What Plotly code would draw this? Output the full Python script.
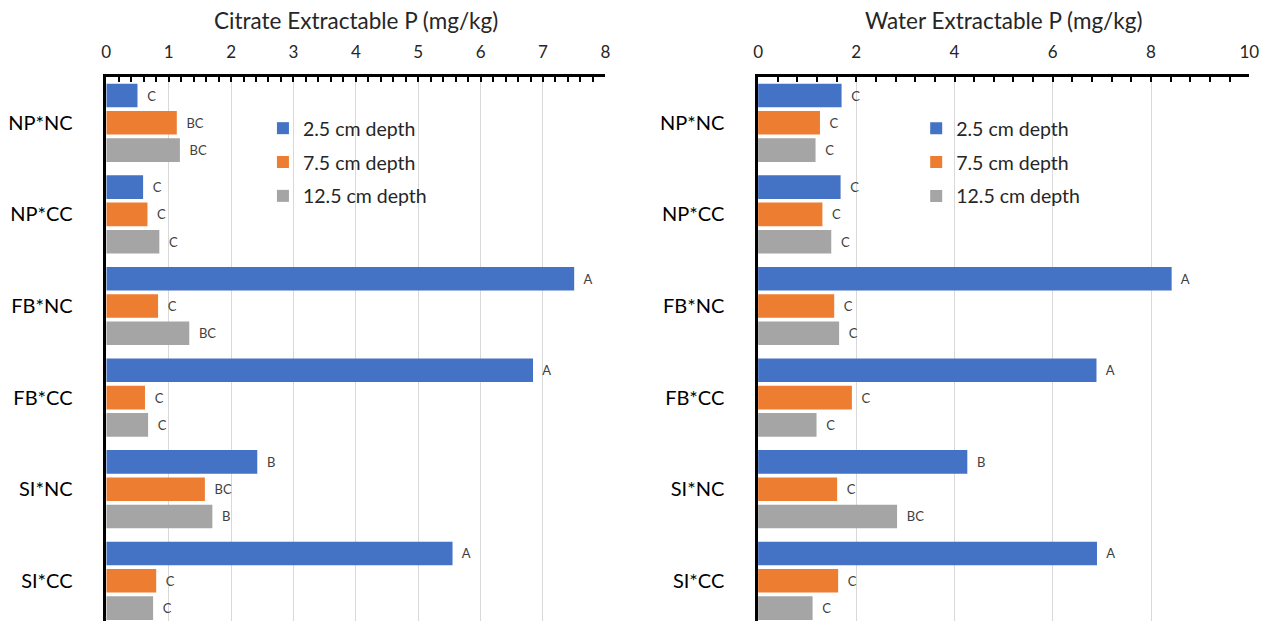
import plotly.graph_objects as go

# Treatment combinations, listed top to bottom
treatments = ["NP*NC", "NP*CC", "FB*NC", "FB*CC", "SI*NC", "SI*CC"]
depths = ["2.5 cm depth", "7.5 cm depth", "12.5 cm depth"]
colors = ["#4472C4", "#ED7D31", "#A5A5A5"]

# Citrate extractable P (mg/kg) by depth
citrate_25 = [0.50, 0.59, 7.50, 6.84, 2.42, 5.55]
citrate_75 = [1.13, 0.66, 0.83, 0.62, 1.58, 0.80]
citrate_125 = [1.18, 0.85, 1.33, 0.67, 1.70, 0.75]
citrate_letters_25 = ["C", "C", "A", "A", "B", "A"]
citrate_letters_75 = ["BC", "C", "C", "C", "BC", "C"]
citrate_letters_125 = ["BC", "C", "BC", "C", "B", "C"]

# Water extractable P (mg/kg) by depth
water_25 = [1.70, 1.68, 8.42, 6.89, 4.26, 6.90]
water_75 = [1.26, 1.31, 1.55, 1.91, 1.61, 1.63]
water_125 = [1.17, 1.49, 1.65, 1.19, 2.83, 1.11]
water_letters_25 = ["C", "C", "A", "A", "B", "A"]
water_letters_75 = ["C", "C", "C", "C", "C", "C"]
water_letters_125 = ["C", "C", "C", "C", "BC", "C"]

W, H = 1280, 621
PLOT_TOP = 77
FONT = "Lato"
TXT = "#262626"

fig = go.Figure()

panels = [
    ("x", "y", "legend", [citrate_25, citrate_75, citrate_125],
     [citrate_letters_25, citrate_letters_75, citrate_letters_125]),
    ("x2", "y2", "legend2", [water_25, water_75, water_125],
     [water_letters_25, water_letters_75, water_letters_125]),
]

for xa, ya, leg, series, letters in panels:
    for i, (vals, labs) in enumerate(zip(series, letters)):
        fig.add_trace(go.Bar(
            x=vals, y=treatments, orientation="h",
            name=depths[i], marker=dict(color=colors[i], line=dict(width=0)),
            text=["\u00a0\u00a0" + t for t in labs], textposition="outside",
            textfont=dict(family=FONT, size=13, color="#404040"),
            cliponaxis=False,
            xaxis=xa, yaxis=ya, legend=leg, legendgroup=f"{leg}_{i}",
            hoverinfo="x+y+name",
        ))

def xaxis_style(domain, rng, major, minor):
    return dict(
        domain=domain, range=rng, side="top", dtick=major, tick0=0,
        ticks="inside", ticklen=5, tickwidth=2, tickcolor="black",
        minor=dict(dtick=minor, tick0=0, ticks="inside", ticklen=5,
                   tickwidth=2, tickcolor="black", showgrid=False),
        showgrid=True, gridcolor="#D9D9D9", gridwidth=1,
        showline=True, linecolor="black", linewidth=2.5,
        zeroline=False, ticklabelstandoff=9,
        tickfont=dict(family=FONT, size=17, color=TXT),
        fixedrange=True,
    )

def yaxis_style(anchor):
    return dict(
        anchor=anchor, domain=[0, 1 - PLOT_TOP / H], type="category",
        categoryorder="array", categoryarray=treatments,
        range=[5.439, -0.5], showline=True, linecolor="black", linewidth=2.5,
        ticks="", showgrid=False, zeroline=False, ticklabelstandoff=27,
        tickfont=dict(family=FONT, size=20, color="black"),
        fixedrange=True,
    )

left_dom = [102.5 / W, 607.5 / W]
right_dom = [762 / W, 1259 / W]

legend_common = dict(
    yanchor="top", xanchor="left", y=1 - 109 / H,
    font=dict(family=FONT, size=19.5, color=TXT),
    bgcolor="rgba(0,0,0,0)", tracegroupgap=5.5,
)

fig.update_layout(
    width=W, height=H,
    margin=dict(l=0, r=0, t=0, b=0),
    paper_bgcolor="white", plot_bgcolor="white",
    barmode="group", bargap=0.106, bargroupgap=0.136,
    font=dict(family=FONT, color=TXT),
    xaxis=xaxis_style(left_dom, [0, 8], 1, 0.2),
    yaxis=yaxis_style("x"),
    xaxis2=xaxis_style(right_dom, [0, 10], 2, 0.4),
    yaxis2=yaxis_style("x2"),
    legend=dict(x=261 / W, **legend_common),
    legend2=dict(x=922 / W, **legend_common),
    annotations=[
        dict(text="Citrate Extractable P (mg/kg)", xref="paper", yref="paper",
             x=(left_dom[0] + left_dom[1]) / 2, y=1 - 20 / H,
             xanchor="center", yanchor="middle", showarrow=False,
             font=dict(family=FONT, size=22.5, color=TXT)),
        dict(text="Water Extractable P (mg/kg)", xref="paper", yref="paper",
             x=(right_dom[0] + right_dom[1]) / 2, y=1 - 20 / H,
             xanchor="center", yanchor="middle", showarrow=False,
             font=dict(family=FONT, size=22.5, color=TXT)),
    ],
)

fig.write_html("out.html")
